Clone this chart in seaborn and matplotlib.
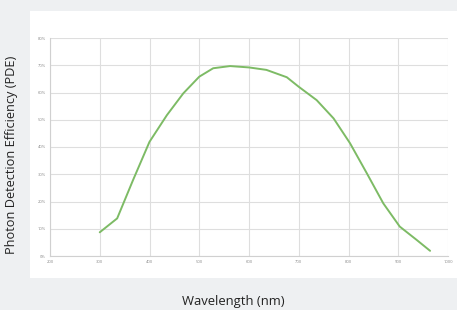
import matplotlib
matplotlib.use("Agg")
import matplotlib.pyplot as plt
import seaborn as sns
import pandas as pd
from matplotlib.patches import Rectangle

wavelength = [300, 335, 367, 400, 435, 468, 500, 528, 562, 600, 635, 676, 700, 736, 770, 803, 837, 870, 903, 937, 964]
pde = [8.7, 13.8, 27.9, 41.9, 51.7, 59.7, 65.8, 68.9, 69.7, 69.2, 68.3, 65.6, 62.1, 57.2, 50.5, 41.4, 30.3, 19.3, 10.8, 5.9, 1.9]
x_ticks = [200, 300, 400, 500, 600, 700, 800, 900, 1000]
y_ticks = [0, 10, 20, 30, 40, 50, 60, 70, 80]
y_tick_labels = ["0%", "10%", "20%", "30%", "40%", "50%", "60%", "70%", "80%"]

sns.set_style("whitegrid")
plt.rcParams['font.family'] = ['Open Sans', 'DejaVu Sans']

W, H = 457, 310
fig = plt.figure(figsize=(W / 100, H / 100), dpi=100)
fig.patch.set_facecolor("#eef0f2")
fig.patches.append(Rectangle((30 / W, 1 - 278 / H), 1 - 30 / W, (278 - 10.7) / H,
                             transform=fig.transFigure, facecolor="white",
                             edgecolor="none", zorder=-5))

ax = fig.add_axes([50 / W, 1 - 256 / H, (448 - 50) / W, (256 - 38) / H])
ax.set_zorder(2)
ax.set_facecolor("white")
df = pd.DataFrame({"wl": wavelength, "pde": pde})
sns.lineplot(data=df, x="wl", y="pde", ax=ax, color="#7dbb65", linewidth=1.4)

ax.set_xlim(200, 1000)
ax.set_ylim(0, 80)
ax.set_xticks(x_ticks)
ax.set_xticklabels([str(v) for v in x_ticks], fontsize=3, color="#888888")
ax.set_yticks(y_ticks)
ax.set_yticklabels(y_tick_labels, fontsize=3, color="#888888")
ax.tick_params(axis="both", length=0, pad=3)
ax.grid(True, color="#dedede", linewidth=0.8)
for side in ["top", "right"]:
    ax.spines[side].set_visible(False)
for side in ["left", "bottom"]:
    ax.spines[side].set_visible(True)
    ax.spines[side].set_color("#d0d0d0")
    ax.spines[side].set_linewidth(0.8)
ax.set_xlabel("")
ax.set_ylabel("")

fig.text(12 / W, 1 - 155 / H, "Photon Detection Efficiency (PDE)", rotation=90,
         ha="center", va="center", fontsize=9.2, color="#222222")
fig.text(233 / W, 1 - 302 / H, "Wavelength (nm)", ha="center", va="center",
         fontsize=9.4, color="#222222")

fig.savefig("out.png", dpi=100, facecolor=fig.get_facecolor())
